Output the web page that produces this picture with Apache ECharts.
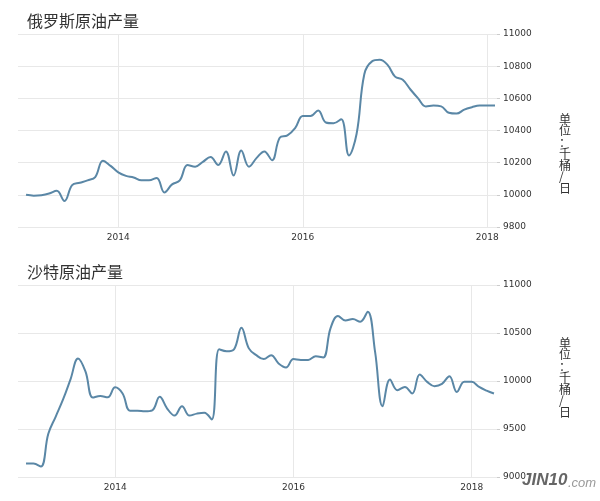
<!DOCTYPE html>
<html>
<head>
<meta charset="utf-8">
<script src="https://cdn.jsdelivr.net/npm/echarts@6/dist/echarts.min.js"></script>
<style>html,body{margin:0;padding:0;background:#fff}#c{width:600px;height:501px}</style>
</head>
<body>
<div id="c"></div>
<script>
// ---- data ----
const ruTitle = '俄罗斯原油产量';
const saTitle = '沙特原油产量';
const unitText = '单位：千桶/日';
const ruStart = '2013-01';
const ruValues = [
  10000, 9995, 9998, 10008, 10025, 9962, 10060, 10075, 10090, 10110, 10212, 10180,
  10140, 10118, 10108, 10090, 10090, 10105, 10015, 10065, 10090, 10185, 10175, 10205,
  10235, 10185, 10270, 10120, 10275, 10175, 10230, 10270, 10215, 10355, 10370, 10415,
  10490, 10490, 10525, 10450, 10445, 10470, 10245, 10380, 10750, 10830, 10840, 10810,
  10735, 10715, 10655, 10600, 10550, 10555, 10550, 10510, 10505, 10530, 10545, 10555,
  10555, 10555
];
const saStart = '2013-01';
const saValues = [
  9140, 9140, 9110, 9450, 9630, 9810, 10020, 10235, 10100, 9828, 9845, 9830,
  9935, 9870, 9690, 9690, 9685, 9695, 9835, 9713, 9640, 9737, 9640, 9660,
  9670, 9600, 10330, 10310, 10330, 10555, 10340, 10269, 10228, 10269, 10183, 10141,
  10228, 10220, 10220, 10259, 10245, 10550, 10676, 10630, 10645, 10617, 10721, 10300,
  9737, 10016, 9904, 9938, 9870, 10068, 9991, 9946, 9970, 10050, 9886, 9991,
  9991, 9938, 9900, 9870
];
const yearTicks = [2014, 2016, 2018];
const ruYTicks = [9800, 10000, 10200, 10400, 10600, 10800, 11000];
const saYTicks = [9000, 9500, 10000, 10500, 11000];

// build [decimalYear, value] pairs from month labels
function toPairs(start, values) {
  const [y0, m0] = start.split('-').map(Number);
  return values.map((v, i) => {
    const mi = (m0 - 1) + i;
    const yr = y0 + Math.floor(mi / 12);
    const mo = mi % 12;
    return [yr + mo / 12, v];
  });
}

const lineColor = '#5a87a6';
const gridColor = '#e8e8e8';
const labelStyle = { color: '#333', fontSize: 9, fontFamily: 'DejaVu Sans' };

function xAxis(gridIndex, min, max) {
  return {
    type: 'value', gridIndex, min, max,
    axisLine: { show: false },
    axisTick: { show: false, customValues: yearTicks },
    axisLabel: Object.assign({ customValues: yearTicks, margin: 6, formatter: v => String(v) }, labelStyle),
    splitLine: { show: true, lineStyle: { color: gridColor, width: 1 } }
  };
}
function yAxis(gridIndex, ticks) {
  return {
    type: 'value', gridIndex, position: 'right',
    min: ticks[0], max: ticks[ticks.length - 1], interval: ticks[1] - ticks[0],
    axisLine: { show: false },
    axisTick: { show: true, length: 3, lineStyle: { color: '#ccc' } },
    axisLabel: Object.assign({ margin: 6, formatter: v => String(v) }, labelStyle),
    splitLine: { show: true, lineStyle: { color: gridColor, width: 1 } }
  };
}

const chart = echarts.init(document.getElementById('c'), null, { renderer: 'canvas' });
chart.setOption({
  animation: false,
  backgroundColor: '#fff',
  title: [
    { text: ruTitle, left: 22, top: 8, textStyle: { fontSize: 16, fontWeight: 'normal', color: '#333', fontFamily: 'Noto Sans CJK SC' } },
    { text: saTitle, left: 22, top: 259, textStyle: { fontSize: 16, fontWeight: 'normal', color: '#333', fontFamily: 'Noto Sans CJK SC' } }
  ],
  grid: [
    { left: 18, top: 34, width: 479, height: 193 },
    { left: 18, top: 285, width: 479, height: 192 }
  ],
  xAxis: [xAxis(0, 2012.913, 2018.105), xAxis(1, 2012.910, 2018.284)],
  yAxis: [yAxis(0, ruYTicks), yAxis(1, saYTicks)],
  series: [
    { type: 'line', xAxisIndex: 0, yAxisIndex: 0, data: toPairs(ruStart, ruValues), smooth: 0.4, showSymbol: false,
      lineStyle: { color: lineColor, width: 2 } },
    { type: 'line', xAxisIndex: 1, yAxisIndex: 1, data: toPairs(saStart, saValues), smooth: 0.4, showSymbol: false,
      lineStyle: { color: lineColor, width: 2 } }
  ],
  graphic: [
    { type: 'text', left: 559, top: 113, style: { text: unitText.split('').join('\n'), fontSize: 12, lineHeight: 11.5, fill: '#333', fontFamily: 'Noto Sans CJK SC', align: 'center' } },
    { type: 'text', left: 559, top: 337, style: { text: unitText.split('').join('\n'), fontSize: 12, lineHeight: 11.5, fill: '#333', fontFamily: 'Noto Sans CJK SC', align: 'center' } },
    { type: 'text', left: 522, top: 472, style: { text: 'JIN10', fontSize: 17, fontStyle: 'italic', fontWeight: 'bold', fill: '#666', fontFamily: 'Liberation Sans' } },
    { type: 'text', left: 568, top: 477, style: { text: '.com', fontSize: 13, fontStyle: 'italic', fill: '#999', fontFamily: 'Liberation Sans' } }
  ]
});
</script>
</body>
</html>
